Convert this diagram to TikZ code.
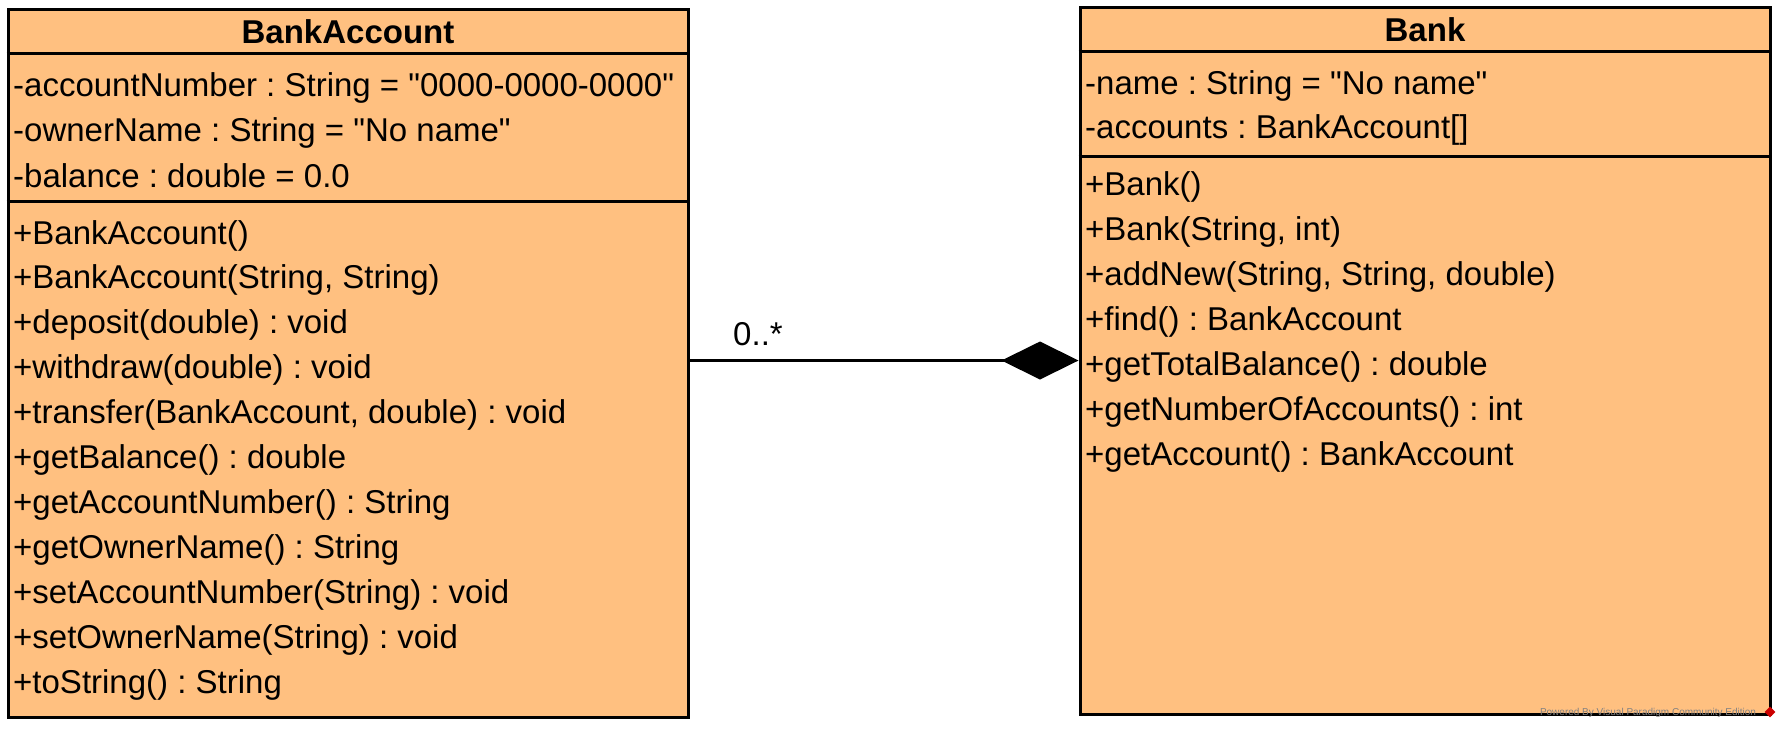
\documentclass[tikz,border=0pt]{standalone}
\usepackage{fontspec}
\setmainfont{Liberation Sans}
\usetikzlibrary{arrows.meta,shapes.geometric}
\definecolor{vpfill}{RGB}{255,192,128}
\newcommand{\qq}{\textquotedbl}
\frenchspacing

\begin{document}
\begin{tikzpicture}[x=1pt,y=-1pt,
    classbox/.style={draw, line width=3pt, fill=vpfill, inner sep=0pt},
    member/.style={anchor=west, inner sep=0pt, text height=24pt, text depth=0pt,
      font=\fontsize{33}{40}\selectfont},
    title/.style={member, anchor=center, font=\fontsize{33}{40}\selectfont\bfseries},
    comp/.style={line width=3pt, -{Diamond[length=77pt,width=38pt]}}]
  \useasboundingbox (0,0) rectangle (1782,729);

  % BankAccount class
  \node[classbox, minimum width=680pt, minimum height=708pt] (ba) at (348,363) {};
  \draw[line width=3pt] (ba.west |- 0,53) -- (ba.east |- 0,53);
  \draw[line width=3pt] (ba.west |- 0,201) -- (ba.east |- 0,201);
  \node[title] (ba-name) at (348,31) {BankAccount};
  \foreach \t [count=\i from 0] in {{-accountNumber : String = \qq0000-0000-0000\qq},
      {-ownerName : String = \qq No name\qq}, {-balance : double = 0.0}}
    \node[member] (ba-attr\i) at (13,84+\i*45.5) {\t};
  \foreach \t [count=\i from 0] in {{+BankAccount()}, {+BankAccount(String, String)},
      {+deposit(double) : void}, {+withdraw(double) : void},
      {+transfer(BankAccount, double) : void}, {+getBalance() : double},
      {+getAccountNumber() : String}, {+getOwnerName() : String},
      {+setAccountNumber(String) : void}, {+setOwnerName(String) : void},
      {+toString() : String}}
    \node[member] (ba-op\i) at (13,232+\i*44.9) {\t};

  % Bank class
  \node[classbox, minimum width=690pt, minimum height=707pt] (bank) at (1425,360.5) {};
  \draw[line width=3pt] (bank.west |- 0,51) -- (bank.east |- 0,51);
  \draw[line width=3pt] (bank.west |- 0,156) -- (bank.east |- 0,156);
  \node[title] (bank-name) at (1425,29) {Bank};
  \foreach \t [count=\i from 0] in {{-name : String = \qq No name\qq},
      {-accounts : BankAccount[]}}
    \node[member] (bank-attr\i) at (1085,82+\i*44.5) {\t};
  \foreach \t [count=\i from 0] in {{+Bank()}, {+Bank(String, int)},
      {+addNew(String, String, double)}, {+find() : BankAccount},
      {+getTotalBalance() : double}, {+getNumberOfAccounts() : int},
      {+getAccount() : BankAccount}}
    \node[member] (bank-op\i) at (1085,183+\i*45) {\t};

  % composition
  \draw[comp] (ba.east |- bank.west) -- (bank.west);
  \node[member, anchor=center] (mult) at (758,333) {0..*};

  % watermark
  \node[inner sep=0pt, text=gray, font=\fontsize{10}{12}\selectfont] (vp) at (1648,713)
    {Powered By Visual Paradigm Community Edition};
  \node[diamond, fill=red!80!black, inner sep=0pt, minimum size=11pt] (vp-logo) at (1770,712) {};
\end{tikzpicture}
\end{document}
